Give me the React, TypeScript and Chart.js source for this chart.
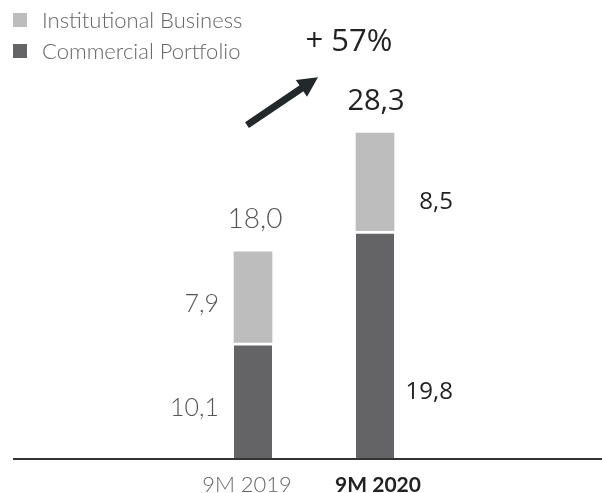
import React, { useEffect, useRef } from "react";
import { Chart, registerables } from "chart.js";

Chart.register(...registerables);

const categories = ["9M 2019", "9M 2020"];
const commercialPortfolio = [10.1, 19.8];
const institutionalBusiness = [7.9, 8.5];
const totals = [18.0, 28.3];
const growthLabel = "+ 57%";
const seriesNames = ["Institutional Business", "Commercial Portfolio"];

const LIGHT = "#bdbdbe";
const DARK = "#646466";

const fmt = (v: number) => v.toFixed(1).replace(".", ",");

const annotations = {
  id: "annotations",
  afterDatasetsDraw(chart: any) {
    const ctx = chart.ctx;
    const yScale = chart.scales.y;
    const m0 = chart.getDatasetMeta(0);
    const m1 = chart.getDatasetMeta(1);
    ctx.save();

    // baseline
    const base = yScale.getPixelForValue(0);
    ctx.strokeStyle = "#333";
    ctx.lineWidth = 2;
    ctx.beginPath();
    ctx.moveTo(13, base);
    ctx.lineTo(chart.width, base);
    ctx.stroke();

    // legend
    const legendItems = [
      { name: seriesNames[0], color: LIGHT },
      { name: seriesNames[1], color: DARK },
    ];
    legendItems.forEach((it, i) => {
      const cy = 20 + i * 31;
      ctx.fillStyle = it.color;
      ctx.fillRect(13, cy - 7, 14, 14);
      ctx.fillStyle = "#666";
      ctx.font = "300 22px Lato";
      ctx.textAlign = "left";
      ctx.textBaseline = "middle";
      ctx.fillText(it.name, 42, cy + 1);
    });

    ctx.textBaseline = "middle";
    categories.forEach((cat, i) => {
      const dark = m0.data[i];
      const light = m1.data[i];
      const half = dark.width / 2;
      const first = i === 0;
      if (first) {
        ctx.font = "300 25px Lato";
        ctx.fillStyle = "#555";
        ctx.textAlign = "right";
        const rx = dark.x - half - 15;
        ctx.fillText(fmt(commercialPortfolio[i]), rx, (dark.y + dark.base) / 2 + 7);
        ctx.fillText(fmt(institutionalBusiness[i]), rx, (light.y + light.base) / 2 + 7);
        ctx.font = "300 28px Lato";
        ctx.textAlign = "center";
        ctx.fillText(fmt(totals[i]), dark.x + 2, light.y - 33);
        ctx.font = "300 22px Lato";
        ctx.fillStyle = "#666";
        ctx.fillText(cat, dark.x - 6, base + 26);
      } else {
        ctx.font = "400 24px 'Open Sans'";
        ctx.fillStyle = "#222";
        ctx.textAlign = "right";
        const rx = dark.x + half + 59;
        ctx.fillText(fmt(commercialPortfolio[i]), rx, (dark.y + dark.base) / 2 + 47);
        ctx.fillText(fmt(institutionalBusiness[i]), rx, (light.y + light.base) / 2 + 20);
        ctx.font = "400 29px 'Open Sans'";
        ctx.textAlign = "center";
        ctx.fillText(fmt(totals[i]), dark.x + 1, light.y - 31);
        ctx.font = "700 21px Lato";
        ctx.fillText(cat, dark.x + 3, base + 26);
        ctx.font = "400 31px 'Open Sans'";
        ctx.fillText(growthLabel, dark.x - 26, light.y - 91);

        // arrow
        const tipX = dark.x - 57;
        const tipY = light.y - 56;
        const startX = m0.data[0].x - 6;
        const startY = light.y - 8;
        const ang = Math.atan2(tipY - startY, tipX - startX);
        const headLen = 20;
        const headW = 10;
        const bx = tipX - headLen * Math.cos(ang);
        const by = tipY - headLen * Math.sin(ang);
        ctx.strokeStyle = "#23282b";
        ctx.fillStyle = "#23282b";
        ctx.lineWidth = 7;
        ctx.lineCap = "butt";
        ctx.beginPath();
        ctx.moveTo(startX, startY);
        ctx.lineTo(bx + 2 * Math.cos(ang), by + 2 * Math.sin(ang));
        ctx.stroke();
        ctx.beginPath();
        ctx.moveTo(tipX, tipY);
        ctx.lineTo(bx - headW * Math.sin(ang), by + headW * Math.cos(ang));
        ctx.lineTo(bx + headW * Math.sin(ang), by - headW * Math.cos(ang));
        ctx.closePath();
        ctx.fill();
      }
    });
    ctx.restore();
  },
};

export default function App() {
  const ref = useRef<HTMLCanvasElement | null>(null);
  useEffect(() => {
    if (!ref.current) return;
    const chart = new Chart(ref.current, {
      type: "bar",
      data: {
        labels: categories,
        datasets: [
          {
            label: seriesNames[1],
            data: commercialPortfolio,
            backgroundColor: DARK,
            borderColor: "#ffffff",
            borderWidth: { top: 3, right: 0, bottom: 0, left: 0 },
            borderSkipped: false,
            barThickness: 38,
          },
          {
            label: seriesNames[0],
            data: institutionalBusiness,
            backgroundColor: LIGHT,
            borderWidth: 0,
            barThickness: 38,
          },
        ],
      },
      options: {
        responsive: false,
        animation: false,
        layout: { padding: { left: 192, right: 166, top: 56, bottom: 34 } },
        plugins: { legend: { display: false }, tooltip: { enabled: false } },
        scales: {
          x: { stacked: true, display: false, offset: true },
          y: { stacked: true, display: false, min: 0, max: 35 },
        },
      },
      plugins: [annotations],
    });
    return () => chart.destroy();
  }, []);
  return (
    <div style={{ position: "fixed", left: 0, top: 0, width: 602, height: 493, background: "#fff" }}>
      <canvas ref={ref} width={602} height={493} style={{ display: "block" }} />
    </div>
  );
}
